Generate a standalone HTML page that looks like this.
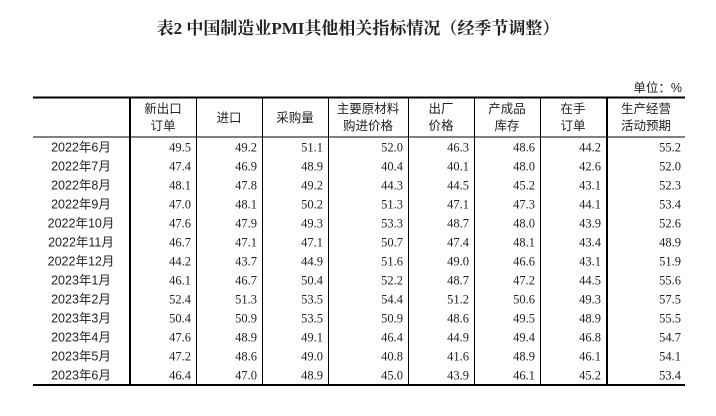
<!DOCTYPE html>
<html><head><meta charset="utf-8"><style>
body{margin:0;background:#fff;width:716px;height:411px;overflow:hidden}
svg text{font-family:"Liberation Serif","Noto Sans CJK SC",serif;fill:#222}
.h{font-family:"Liberation Sans","Noto Sans CJK SC",sans-serif;font-size:12.5px}
.n{font-size:12.5px}
</style></head><body>
<svg width="716" height="411" xmlns="http://www.w3.org/2000/svg">
<text x="358" y="34" text-anchor="middle" style="font-family:'Liberation Serif','Noto Serif CJK SC',serif;font-weight:bold;font-size:17px">表2 中国制造业PMI其他相关指标情况（经季节调整）</text>
<text x="682" y="92" text-anchor="end" class="h">单位：%</text>
<line x1="33" y1="97.5" x2="685" y2="97.5" stroke="#000" stroke-width="2"/>
<line x1="33" y1="137" x2="685" y2="137" stroke="#000" stroke-width="1"/>
<line x1="33" y1="385" x2="685" y2="385" stroke="#000" stroke-width="2"/>
<g stroke="#000">
<line x1="130" y1="97" x2="130" y2="385" stroke-width="2"/>
<line x1="196.5" y1="97" x2="196.5" y2="385"/>
<line x1="262.5" y1="97" x2="262.5" y2="385"/>
<line x1="328.5" y1="97" x2="328.5" y2="385"/>
<line x1="408.5" y1="97" x2="408.5" y2="385"/>
<line x1="474.5" y1="97" x2="474.5" y2="385"/>
<line x1="540.5" y1="97" x2="540.5" y2="385"/>
<line x1="607" y1="97" x2="607" y2="385" stroke-width="2"/>
</g>
<g class="h" text-anchor="middle">
<text x="163" y="113" class="h">新出口</text><text x="163" y="130" class="h">订单</text>
<text x="229" y="122" class="h">进口</text>
<text x="295" y="122" class="h">采购量</text>
<text x="368" y="113" class="h">主要原材料</text><text x="368" y="130" class="h">购进价格</text>
<text x="441" y="113" class="h">出厂</text><text x="441" y="130" class="h">价格</text>
<text x="507" y="113" class="h">产成品</text><text x="507" y="130" class="h">库存</text>
<text x="573" y="113" class="h">在手</text><text x="573" y="130" class="h">订单</text>
<text x="646" y="113" class="h">生产经营</text><text x="646" y="130" class="h">活动预期</text>
</g>
<g id="rows"></g>
</svg>
<script>
var d=[["2022年6月",49.5,49.2,51.1,52.0,46.3,48.6,44.2,55.2],
["2022年7月",47.4,46.9,48.9,40.4,40.1,48.0,42.6,52.0],
["2022年8月",48.1,47.8,49.2,44.3,44.5,45.2,43.1,52.3],
["2022年9月",47.0,48.1,50.2,51.3,47.1,47.3,44.1,53.4],
["2022年10月",47.6,47.9,49.3,53.3,48.7,48.0,43.9,52.6],
["2022年11月",46.7,47.1,47.1,50.7,47.4,48.1,43.4,48.9],
["2022年12月",44.2,43.7,44.9,51.6,49.0,46.6,43.1,51.9],
["2023年1月",46.1,46.7,50.4,52.2,48.7,47.2,44.5,55.6],
["2023年2月",52.4,51.3,53.5,54.4,51.2,50.6,49.3,57.5],
["2023年3月",50.4,50.9,53.5,50.9,48.6,49.5,48.9,55.5],
["2023年4月",47.6,48.9,49.1,46.4,44.9,49.4,46.8,54.7],
["2023年5月",47.2,48.6,49.0,40.8,41.6,48.9,46.1,54.1],
["2023年6月",46.4,47.0,48.9,45.0,43.9,46.1,45.2,53.4]];
var xs=[191,257,323,403,469,535,601,681],g=document.getElementById('rows'),s='';
d.forEach(function(r,i){var y=151.5+19*i;
s+='<text x="81" y="'+y+'" text-anchor="middle" class="h">'+r[0]+'</text>';
for(var j=1;j<9;j++)s+='<text x="'+xs[j-1]+'" y="'+y+'" text-anchor="end" class="n">'+r[j].toFixed(1)+'</text>';});
g.innerHTML=s;
</script>
</body></html>
